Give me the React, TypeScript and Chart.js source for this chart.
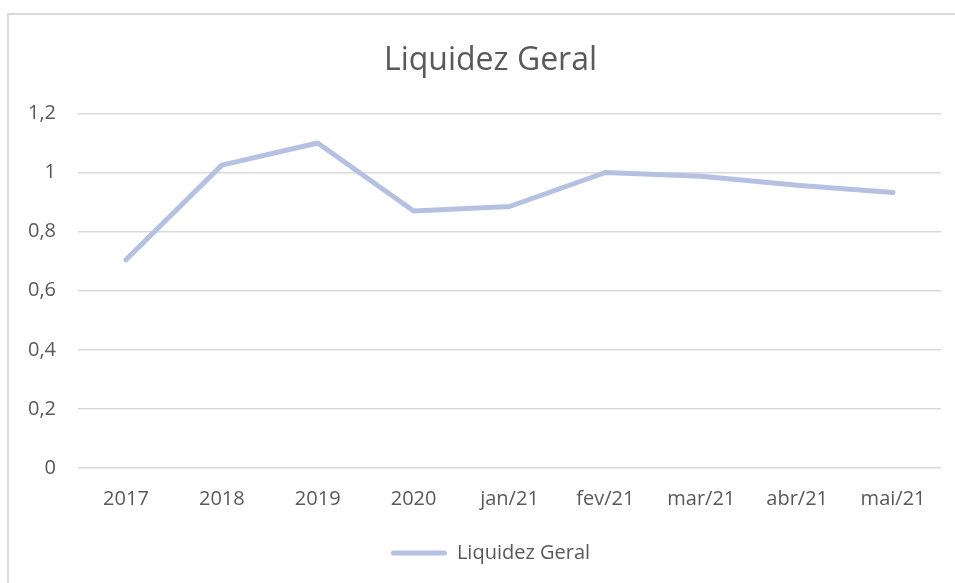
import React, { useEffect, useRef } from "react";
import { Chart, registerables } from "chart.js";

Chart.register(...registerables);

const categories = ["2017", "2018", "2019", "2020", "jan/21", "fev/21", "mar/21", "abr/21", "mai/21"];
const liquidezGeral = [0.705, 1.025, 1.1, 0.87, 0.885, 1.0, 0.987, 0.957, 0.932];
const seriesName = "Liquidez Geral";
const titleText = "Liquidez Geral";

const LINE_COLOR = "#b4c1e2";
const TEXT_COLOR = "#595959";
const GRID_COLOR = "#d9d9d9";
const FONT = "'Open Sans', sans-serif";

const widenYLabelArea = {
  id: "widenYLabelArea",
  afterLayout(chart: any) {
    const y = chart.scales.y;
    if (y) y.left = 0;
  },
};

export default function App() {
  const ref = useRef<HTMLCanvasElement | null>(null);

  useEffect(() => {
    if (!ref.current) return;
    const chart = new Chart(ref.current, {
      type: "line",
      plugins: [widenYLabelArea],
      data: {
        labels: categories,
        datasets: [
          {
            label: seriesName,
            data: liquidezGeral,
            borderColor: LINE_COLOR,
            backgroundColor: LINE_COLOR,
            borderWidth: 5,
            pointRadius: 0,
            pointHoverRadius: 0,
            tension: 0,
            borderCapStyle: "round",
            borderJoinStyle: "round",
          },
        ],
      },
      options: {
        animation: false,
        responsive: false,
        maintainAspectRatio: false,
        layout: { padding: { left: 40, right: 14, top: 0, bottom: 10 } },
        plugins: {
          title: {
            display: true,
            text: titleText,
            color: TEXT_COLOR,
            font: { family: FONT, size: 32, weight: "normal" },
            padding: { top: 42, bottom: 33 },
          },
          legend: {
            display: true,
            position: "bottom",
            labels: {
              color: TEXT_COLOR,
              font: { family: FONT, size: 20 },
              boxWidth: 56,
              boxHeight: 5,
              padding: 10,
              generateLabels: () => [
                {
                  text: seriesName,
                  fillStyle: LINE_COLOR,
                  strokeStyle: LINE_COLOR,
                  lineWidth: 0,
                  fontColor: TEXT_COLOR,
                  borderRadius: 2.5,
                  hidden: false,
                  datasetIndex: 0,
                } as any,
              ],
              useBorderRadius: true,
            },
          },
          tooltip: { enabled: false },
        },
        scales: {
          x: {
            offset: true,
            grid: { display: false, drawTicks: false },
            border: { display: false },
            ticks: {
              color: TEXT_COLOR,
              font: { family: FONT, size: 20 },
              padding: 19,
              maxRotation: 0,
            },
            afterFit: (scale: any) => {
              scale.height = 65;
            },
          },
          y: {
            min: 0,
            max: 1.2,
            grid: { color: GRID_COLOR, lineWidth: 1.5, drawTicks: false },
            border: { display: false },
            ticks: {
              stepSize: 0.2,
              color: TEXT_COLOR,
              font: { family: FONT, size: 20 },
              padding: 22,
              callback: (v: any) => {
                const n = Math.round(Number(v) * 10) / 10;
                return String(n).replace(".", ",");
              },
            },
            afterFit: (scale: any) => {
              scale.width = 38;
            },
          },
        },
      },
    });
    return () => chart.destroy();
  }, []);

  return (
    <div style={{ position: "fixed", left: 0, top: 0, width: 955, height: 583, background: "#fff", overflow: "hidden" }}>
      <div
        style={{
          position: "absolute",
          left: 7,
          top: 13,
          width: 1200,
          height: 1000,
          borderLeft: "2px solid #d9d9d9",
          borderTop: "2px solid #d9d9d9",
          boxSizing: "border-box",
        }}
      />
      <canvas ref={ref} width={955} height={583} style={{ position: "absolute", left: 0, top: 0, width: 955, height: 583 }} />
    </div>
  );
}
